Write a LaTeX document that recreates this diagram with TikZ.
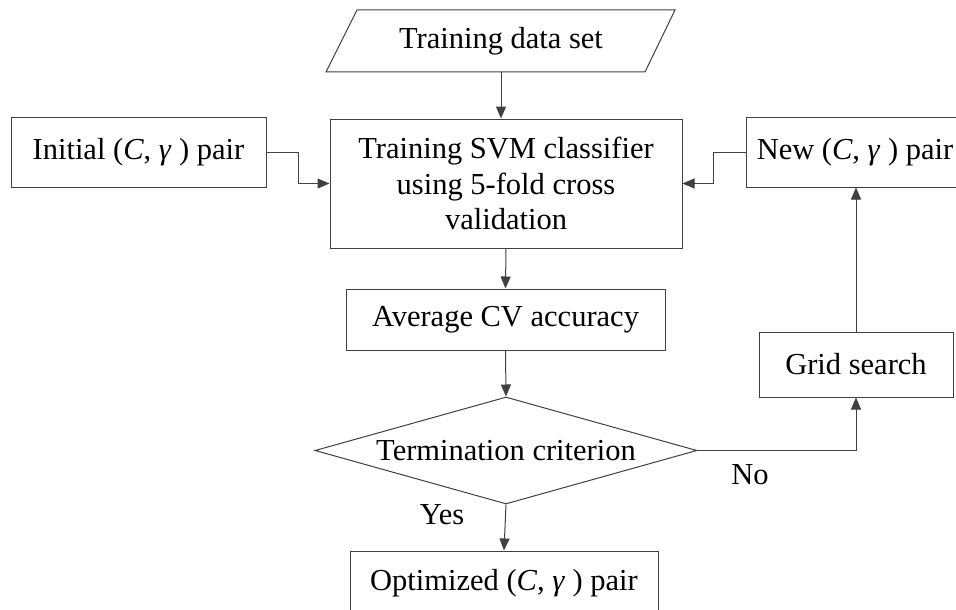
\documentclass[tikz,border=0pt]{standalone}
\usepackage{fontspec}
\setmainfont{Liberation Serif}
\usetikzlibrary{arrows.meta,shapes.geometric}
\tikzset{
  line/.style={draw=black!75, line width=1pt},
  flow/.style={line, -{Triangle[length=12pt,width=10pt]}},
  box/.style={line, rectangle, inner sep=0pt, align=center},
  lbl/.style={inner sep=0pt},
}
\newcommand{\Cg}{(\textit{C}, \textit{γ} )}
\begin{document}
\begin{tikzpicture}[x=1pt,y=-1pt,font=\fontsize{30.5}{35.5}\selectfont]
\useasboundingbox (0,0) rectangle (956,610);
\clip (0,0) rectangle (956,610);
\fill[white] (0,0) rectangle (956,610);

% input data (parallelogram)
\coordinate (p1) at (357,10);
\coordinate (p2) at (675,10);
\coordinate (p3) at (645,72);
\coordinate (p4) at (326,72);
\draw[line] (p1) -- (p2) -- (p3) -- (p4) -- cycle;
\node[lbl, minimum height=62pt] (data) at (501,41) {Training data set};

% process boxes
\node[box, minimum width=255pt, minimum height=70pt] (init) at (138.5,152) {Initial \Cg\ pair};
\node[box, minimum width=352pt, minimum height=129pt] (svm) at (506,183.5)
  {Training SVM classifier\\using 5-fold cross\\validation};
\node[box, minimum width=218pt, minimum height=70pt] (new) at (855,152) {New \Cg\ pair};
\node[box, minimum width=319pt, minimum height=61pt] (avg) at (505.5,319.5) {Average CV accuracy};
\node[box, minimum width=194pt, minimum height=65pt] (grid) at (856,364.5) {Grid search};
\node[line, diamond, inner sep=0pt, aspect=3.57, minimum width=382pt, minimum height=107pt]
  (term) at (506,450.5) {Termination criterion};
\node[box, minimum width=308pt, minimum height=64pt] (opt) at (504,583) {Optimized \Cg\ pair};

% branch labels
\node[lbl] (no) at (750,475) {No};
\node[lbl] (yes) at (442,515) {Yes};

% connectors
\draw[flow] (data.south) -- (data.south |- svm.north);
\draw[flow] (init.east) -- ++(32,0) |- (svm.west);
\draw[flow] (new.west) -- ++(-32,0) |- (svm.east);
\draw[flow] (svm.south) -- (avg.north);
\draw[flow] (avg.south) -- (term.north);
\draw[flow] (term.east) -| (grid.south);
\draw[flow] (grid.north) -- (grid.north |- new.south);
\draw[flow] (term.south) -- (opt.north);
\end{tikzpicture}
\end{document}
